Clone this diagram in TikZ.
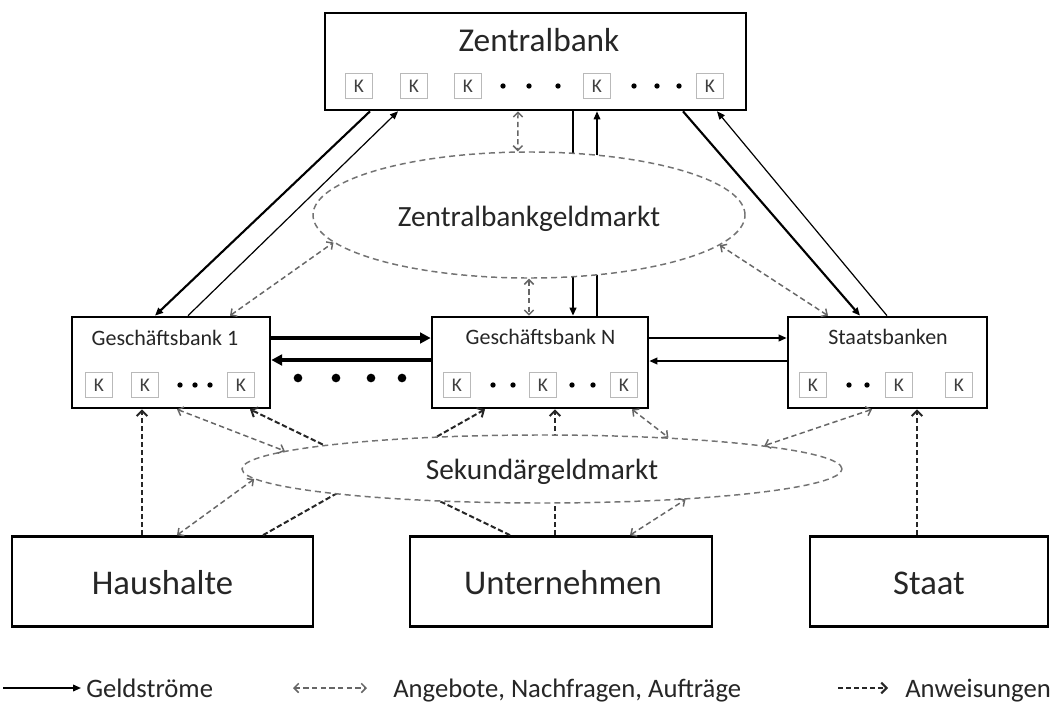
\documentclass[tikz,border=0pt]{standalone}
\usepackage{fontspec}
\setmainfont{Carlito}
\usetikzlibrary{arrows.meta,shapes.geometric}
\begin{document}
\begin{tikzpicture}[x=0.75pt,y=-0.75pt,
  box/.style={draw=black,line width=2pt,fill=white,inner sep=0pt,minimum height=68.25pt},
  kbox/.style={draw=gray!55,line width=0.7pt,fill=white,inner sep=0pt,minimum width=20pt,minimum height=18.5pt,font=\fontsize{14.5}{14.5}\selectfont,text=black!75},
  kdot/.style={circle,fill=black,inner sep=0pt,minimum size=4pt},
  bigdot/.style={circle,fill=black,inner sep=0pt,minimum size=6.5pt},
  title/.style={inner sep=0pt,anchor=base,font=\fontsize{16.5}{18}\selectfont,text=black!85},
  bigtitle/.style={inner sep=0pt,anchor=base,font=\fontsize{26}{30}\selectfont,text=black!85},
  legend/.style={inner sep=0pt,anchor=base west,font=\fontsize{20}{24}\selectfont,text=black!85},
  market/.style={ellipse,draw=black!55,dash pattern=on 4.5pt off 3pt,line width=1.1pt,fill=white,inner sep=0pt},
  geld/.style={draw=black,line width=1.2pt,-{Triangle[length=6pt,width=5pt]}},
  geldthick/.style={draw=black,line width=3pt,-{Triangle[length=8pt,width=8pt]}},
  offer/.style={draw=black!60,line width=1.1pt,dash pattern=on 4pt off 2.5pt,{Straight Barb[length=3.5pt,width=7pt]}-{Straight Barb[length=3.5pt,width=7pt]}},
  order/.style={draw=black!85,line width=1.5pt,dash pattern=on 4pt off 2pt,-{Straight Barb[length=4pt,width=8pt]}}
]
\fill[white] (0,0) rectangle (1055,706);
\useasboundingbox (0,0) rectangle (1055,706);

% ---------- boxes ----------
\node[box,minimum width=315.75pt,minimum height=72.75pt] (zb) at (535.5,61.5) {};
\node[box,minimum width=148.5pt] (gb1) at (171,362.5) {};
\node[box,minimum width=162pt] (gbn) at (540,362.5) {};
\node[box,minimum width=149.25pt] (sb) at (887.5,362.5) {};
\node[box,minimum width=225.75pt,minimum height=67.5pt] (hh) at (162.5,581.5) {};
\node[box,minimum width=226.5pt,minimum height=67.5pt] (un) at (561,581.5) {};
\node[box,minimum width=178.5pt,minimum height=67.5pt] (st) at (929,581.5) {};

% ---------- titles ----------
\node[bigtitle,font=\fontsize{25}{30}\selectfont] (zbt) at (539,52) {Zentralbank};
\node[title] (gb1t) at (165,345) {Geschäftsbank 1};
\node[title] (gbnt) at (540.5,344) {Geschäftsbank N};
\node[title] (sbt) at (888,344) {Staatsbanken};
\node[bigtitle] (hht) at (162.5,594) {Haushalte};
\node[bigtitle] (unt) at (563,594) {Unternehmen};
\node[bigtitle] (stt) at (929,594) {Staat};

% ---------- K boxes and dots ----------
\foreach \x [count=\i] in {359,414,468,597,710} {\node[kbox] (zk\i) at (\x,86) {K};}
\foreach \x [count=\i] in {503,529,558,634,657,679} {\node[kdot] (zd\i) at (\x,86) {};}
\foreach \x [count=\i] in {99,145,241} {\node[kbox] (ak\i) at (\x,385) {K};}
\foreach \x [count=\i] in {180,195,210} {\node[kdot] (ad\i) at (\x,385) {};}
\foreach \x [count=\i] in {457,543,624} {\node[kbox] (nk\i) at (\x,385) {K};}
\foreach \x [count=\i] in {493,513,572,593} {\node[kdot] (nd\i) at (\x,385) {};}
\foreach \x [count=\i] in {813,899,959} {\node[kbox] (sk\i) at (\x,385) {K};}
\foreach \x [count=\i] in {849,867} {\node[kdot] (sd\i) at (\x,385) {};}
\foreach \x [count=\i] in {298,336,371,402} {\node[bigdot] (bd\i) at (\x,378) {};}

% ---------- connectors passing behind the markets ----------
\draw[geld,line width=1.4pt] (573,0 |- zb.south) -- (573,0 |- gbn.north);
\draw[geld,line width=0.9pt] (597,0 |- gbn.north) -- (597,0 |- zb.south);
\draw[order] (142,0 |- hh.north) -- (142,0 |- gb1.south);
\draw[order] (263,0 |- hh.north) -- (485,0 |- gbn.south);
\draw[order] (510,0 |- un.north) -- (250,0 |- gb1.south);
\draw[order] (555,0 |- un.north) -- (555,0 |- gbn.south);
\draw[order] (917,0 |- st.north) -- (917,0 |- sb.south);

% ---------- markets ----------
\node[market,minimum width=324pt,minimum height=94.5pt] (zbgm) at (529,215) {};
\node[title,font=\fontsize{22}{26}\selectfont] (zbgmt) at (529,226) {Zentralbankgeldmarkt};
\node[market,minimum width=450pt,minimum height=51pt] (sgm) at (542,469) {};
\node[title,font=\fontsize{22}{26}\selectfont] (sgmt) at (542,479) {Sekundärgeldmarkt};

% ---------- money flows ----------
\draw[geld,line width=1.6pt] (370,0 |- zb.south) -- (155,0 |- gb1.north);
\draw[geld,line width=0.9pt] (188,0 |- gb1.north) -- (398,0 |- zb.south);
\draw[geld,line width=1.6pt] (683,0 |- zb.south) -- (860,0 |- sb.north);
\draw[geld,line width=0.9pt] (887,0 |- sb.north) -- (717,0 |- zb.south);
\draw[geldthick] (gb1.east |- 0,338) -- (gbn.west |- 0,338);
\draw[geldthick] (gbn.west |- 0,360) -- (gb1.east |- 0,360);
\draw[geld] (gbn.east |- 0,338) -- (sb.west |- 0,338);
\draw[geld] (sb.west |- 0,361) -- (gbn.east |- 0,361);

% ---------- offers / demands ----------
\draw[offer] (518,0 |- zb.south) -- (zbgm.100);
\draw[offer] (230,0 |- gb1.north) -- (zbgm.188);
\draw[offer] (zbgm.south) -- (zbgm.south |- gbn.north);
\draw[offer] (828,0 |- sb.north) -- (zbgm.-9);
\draw[offer] (177,0 |- gb1.south) -- (sgm.176.5);
\draw[offer] (177,0 |- hh.north) -- (sgm.182);
\draw[offer] (632,0 |- gbn.south) -- (sgm.14);
\draw[offer] (630,0 |- un.north) -- (sgm.-12);
\draw[offer] (872,0 |- sb.south) -- (sgm.6);

% ---------- legend ----------
\coordinate (lg1a) at (3,688);
\coordinate (lg1b) at (81,688);
\coordinate (lg2a) at (293,688);
\coordinate (lg2b) at (367,688);
\coordinate (lg3a) at (838,688);
\coordinate (lg3b) at (888,688);
\draw[geld] (lg1a) -- (lg1b);
\draw[offer] (lg2a) -- (lg2b);
\draw[order] (lg3a) -- (lg3b);
\node[legend] (lg1t) at (86,697) {Geldströme};
\node[legend] (lg2t) at (393,697) {Angebote, Nachfragen, Aufträge};
\node[legend] (lg3t) at (905,697) {Anweisungen};
\end{tikzpicture}
\end{document}
